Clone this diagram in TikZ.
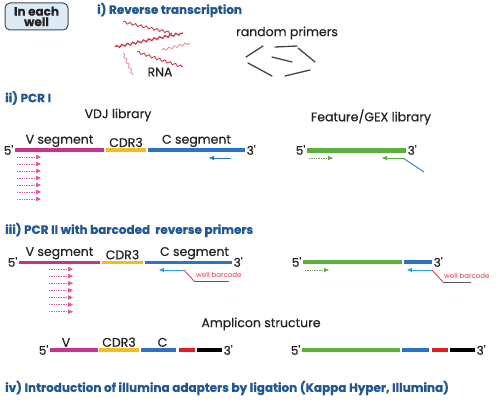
\documentclass[tikz,border=0pt]{standalone}
\usepackage{fontspec}
\setmainfont{Poppins}
\newfontfamily\labfont[FakeBold=0.4]{Poppins}
\usepackage{xcolor}
\usepackage{tikz}
\usetikzlibrary{arrows.meta, positioning, calc, decorations.pathmorphing}
\definecolor{WellTitle}{RGB}{31, 88, 148}
\definecolor{WellBoxFill}{RGB}{220, 235, 245}
\definecolor{WellBoxLine}{RGB}{60, 75, 85}
\definecolor{WellText}{RGB}{35, 35, 35}
\definecolor{SegMagenta}{RGB}{200, 50, 140}
\definecolor{SegYellow}{RGB}{240, 190, 30}
\definecolor{SegBlue}{RGB}{45, 115, 195}
\definecolor{SegGreen}{RGB}{95, 175, 60}
\definecolor{SegRed}{RGB}{225, 30, 35}
\definecolor{PrimerCyan}{RGB}{40, 160, 230}
\definecolor{BarcodeRed}{RGB}{225, 60, 70}
\definecolor{RNARed}{RGB}{205, 60, 75}
\definecolor{RNAPink}{RGB}{230, 150, 160}

\begin{document}
\begin{tikzpicture}[x=1pt, y=-1pt,
    title/.style={anchor=west, inner sep=0, text=WellTitle,
      font=\fontsize{12}{14}\selectfont\labfont\bfseries},
    lib/.style={inner sep=0, text=WellText, font=\fontsize{12.5}{14}\selectfont\labfont},
    seglab/.style={inner sep=1pt, text=WellText, font=\fontsize{12.5}{14}\selectfont\labfont},
    endlab/.style={inner sep=1.5pt, text=WellText, font=\fontsize{12}{14}\selectfont\labfont},
    bar/.style={inner sep=0, outer sep=0, draw=none, minimum height=3.5pt},
    rna/.style={RNARed, line width=0.9pt, decorate,
      decoration={snake, amplitude=1.2pt, segment length=5.5pt}},
    primer/.style={WellText!85, line width=1.3pt, line cap=round},
    vfwd/.style={SegMagenta!80, line width=0.6pt, dash pattern=on 1pt off 0.7pt,
      -{Triangle[length=5pt, width=4.5pt]}},
    gfwd/.style={SegGreen!55!gray, line width=0.6pt, dash pattern=on 1pt off 0.7pt,
      -{Triangle[length=5pt, width=4pt]}},
    rev/.style={line width=0.9pt, -{Triangle[length=5pt, width=4pt]}},
    bclab/.style={inner sep=0, anchor=south west, text=BarcodeRed,
      font=\fontsize{7}{8}\selectfont}
  ]
  \useasboundingbox[fill=white] (0,0) rectangle (500,401);

  \node[rounded corners=5pt, fill=WellBoxFill, draw=WellBoxLine, line width=1pt,
    minimum width=63pt, minimum height=27pt, inner sep=0, align=center,
    text=WellText, font=\fontsize{12}{10.5}\selectfont\labfont\bfseries] (well) at (36.5,16.5) {In each\\well};

  \node[title] (rt) at (97,10) {i) Reverse transcription};
  \draw[rna] (123,22) -- (172,33);
  \draw[rna, line width=1.3pt] (115,47) -- (183,33);
  \draw[rna, RNAPink] (162,50) -- (190,43);
  \draw[rna, RNAPink] (123,53) -- (133,75);
  \draw[rna] (137,52) -- (183,67);
  \node[lib] (rna) at (160,72) {RNA};

  \node[lib] (rp) at (287,33) {random primers};
  \draw[primer] (263,46) -- (246,57);
  \draw[primer] (275,47) -- (297,46);
  \draw[primer] (298,48) -- (315,62);
  \draw[primer] (272,57) -- (292,62);
  \draw[primer] (248,63) -- (272,76);
  \draw[primer] (285,76) -- (310,70);

  \node[title] (pcr1) at (5,98) {ii) PCR I};
  \node[lib] (vdj) at (118,115) {VDJ library};
  \node[bar, fill=SegMagenta, minimum width=89pt, label={[seglab]above:V segment}] (vseg1) at (59.5,150) {};
  \node[bar, fill=SegYellow, minimum width=40pt, label={[seglab]above:CDR3}] (cdr1) at (126,150) {};
  \node[bar, fill=SegBlue, minimum width=97pt, label={[seglab]above:C segment}] (cseg1) at (196.5,150) {};
  \node[endlab, anchor=east] (v5a) at (vseg1.west) {5'};
  \node[endlab, anchor=west] (v3a) at (cseg1.east) {3'};
  \foreach \k in {1,...,7}
    \draw[vfwd] ($(vseg1.west)+(2,7*\k)$) -- ++(24,0);
  \draw[rev, SegBlue] ($(cseg1.east)+(-14,8)$) -- ++(-22,0);

  \node[lib] (gex) at (371,117) {Feature/GEX library};
  \node[bar, fill=SegGreen, minimum width=99pt, minimum height=5pt] (gex1) at (356.5,150) {};
  \node[endlab, anchor=east] (g5a) at (gex1.west) {5'};
  \node[endlab, anchor=west] (g3a) at (gex1.east) {3'};
  \draw[gfwd] ($(gex1.west)+(2,8)$) -- ++(24,0);
  \coordinate (gtail) at ($(gex1.east)+(-3,8)$);
  \draw[rev, SegGreen] (gtail) -- ++(-21,0);
  \draw[SegBlue!80!PrimerCyan, line width=0.9pt] (gtail) -- ++(21,14);

  \node[title] (pcr2) at (5,230) {iii) PCR II with barcoded\ \ reverse primers};
  \node[bar, fill=SegMagenta, minimum width=81pt, minimum height=3pt, label={[seglab]above:V segment}] (vseg2) at (59.5,262) {};
  \node[bar, fill=SegYellow, minimum width=41pt, minimum height=3pt, label={[seglab]above:CDR3}] (cdr2) at (122.5,262) {};
  \node[bar, fill=SegBlue, minimum width=87pt, minimum height=3pt, label={[seglab, xshift=6pt]above:C segment}] (cseg2) at (188.5,262) {};
  \node[endlab, anchor=east] (v5b) at (vseg2.west) {5'};
  \node[endlab, anchor=west] (v3b) at (cseg2.east) {3'};
  \foreach \k in {1,...,7}
    \draw[vfwd] ($(vseg2.west)+(30,7.1*\k)$) -- ++(24,0);
  \coordinate (bca) at ($(cseg2.east)+(-48,8)$);
  \coordinate (bcb) at ($(bca)+(10,11)$);
  \draw[rev, PrimerCyan] (bca) -- ++(-25,0);
  \draw[BarcodeRed, line width=0.9pt] (bca) -- (bcb);
  \draw[WellText!75, line width=0.9pt] (bcb) -- ++(35,0);
  \node[bclab] (bclaba) at ($(bcb)+(2,-3)$) {well barcode};

  \node[bar, fill=SegGreen, minimum width=99pt, minimum height=4pt] (gex2) at (352.5,262) {};
  \node[bar, fill=SegBlue, minimum width=28pt, minimum height=4pt] (cb2) at (418,262) {};
  \node[endlab, anchor=east] (g5b) at (gex2.west) {5'};
  \node[endlab, anchor=west] (g3b) at (cb2.east) {3'};
  \draw[gfwd] ($(gex2.west)+(2,8)$) -- ++(24,0);
  \coordinate (bcc) at ($(cb2.east)+(0,8)$);
  \coordinate (bcd) at ($(bcc)+(11,12)$);
  \draw[rev, PrimerCyan] (bcc) -- ++(-25,0);
  \draw[BarcodeRed, line width=0.9pt] (bcc) -- (bcd);
  \draw[WellText!75, line width=0.9pt] (bcd) -- ++(28,0);
  \node[bclab] (bclabb) at ($(bcd)+(1,-3)$) {well barcode};

  \node[lib] (amp) at (261,324) {Amplicon structure};
  \node[bar, fill=SegMagenta, minimum width=48pt, minimum height=4pt, label={[seglab, xshift=-8pt]above:V}] (va3) at (74,350) {};
  \node[bar, fill=SegYellow, minimum width=40pt, minimum height=4pt, label={[seglab]above:CDR3}] (cdr3) at (119,350) {};
  \node[bar, fill=SegBlue, minimum width=35pt, minimum height=4pt, label={[seglab, xshift=4pt]above:C}] (ca3) at (158.5,350) {};
  \node[bar, fill=SegRed, minimum width=16pt, minimum height=4pt] (ra3) at (187,350) {};
  \node[bar, fill=black, minimum width=25pt, minimum height=4pt] (ka3) at (209.5,350) {};
  \node[endlab, anchor=east] (v5c) at (va3.west) {5'};
  \node[endlab, anchor=west] (v3c) at (ka3.east) {3'};

  \node[bar, fill=SegGreen, minimum width=98pt, minimum height=4pt] (ga3) at (351,350) {};
  \node[bar, fill=SegBlue, minimum width=27pt, minimum height=4pt] (gb3) at (415.5,350) {};
  \node[bar, fill=SegRed, minimum width=16pt, minimum height=4pt] (gr3) at (440,350) {};
  \node[bar, fill=black, minimum width=25pt, minimum height=4pt] (gk3) at (462.5,350) {};
  \node[endlab, anchor=east] (g5c) at (ga3.west) {5'};
  \node[endlab, anchor=west] (g3c) at (gk3.east) {3'};

  \node[title] (lig) at (5,388) {iv) Introduction of illumina adapters by ligation (Kappa Hyper, Illumina)};
\end{tikzpicture}
\end{document}
